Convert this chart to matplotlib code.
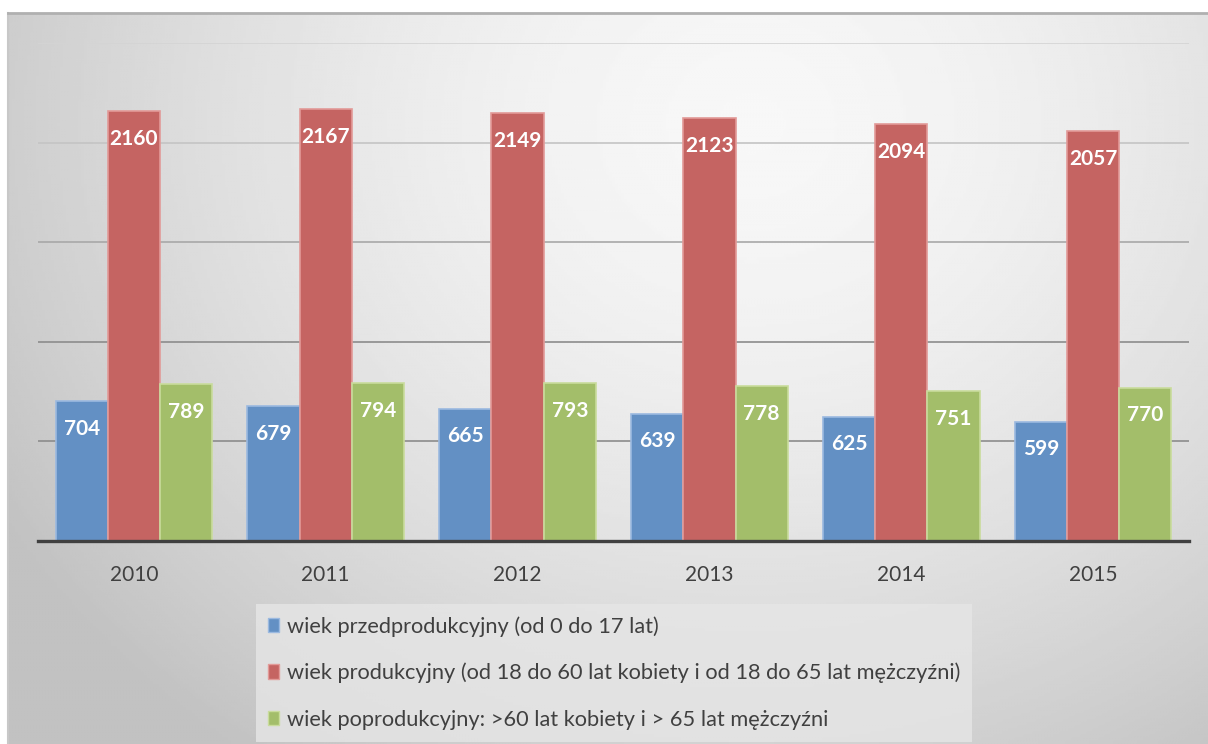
import numpy as np
import matplotlib.pyplot as plt
from matplotlib.patches import Patch

# data
years = ['2010', '2011', '2012', '2013', '2014', '2015']
pre_prod = [704, 679, 665, 639, 625, 599]
prod = [2160, 2167, 2149, 2123, 2094, 2057]
post_prod = [789, 794, 793, 778, 751, 770]
series_names = [
    'wiek przedprodukcyjny (od 0 do 17 lat)',
    'wiek produkcyjny (od 18 do 60 lat kobiety i od 18 do 65 lat mężczyźni)',
    'wiek poprodukcyjny: >60 lat kobiety i > 65 lat mężczyźni',
]
colors = ['#6390c4', '#c56462', '#a3be6a']
edges = ['#9bb9e0', '#e29a98', '#c9dc9c']

plt.rcParams['font.family'] = ['Lato', 'DejaVu Sans']

W, H = 1208, 744
fig = plt.figure(figsize=(W / 100, H / 100), dpi=100)
fig.patch.set_facecolor('white')

# gradient background of the chart area
bg = fig.add_axes([8 / W, 0, 1 - 8 / W, 1 - 13 / H])
gx, gy = np.meshgrid(np.linspace(0, 1, 400), np.linspace(0, 1, 250))
d = np.sqrt(((gx - 0.62) / 0.75) ** 2 + ((gy - 0.15) / 1.1) ** 2)
shade = np.clip(0.97 - 0.22 * d ** 1.6, 0.76, 0.97)
bg.imshow(shade, cmap='gray', vmin=0, vmax=1, aspect='auto',
          extent=[0, 1, 0, 1], origin='upper')
bg.set_xlim(0, 1)
bg.set_ylim(0, 1)
bg.set_xticks([])
bg.set_yticks([])
for side in ['right', 'bottom']:
    bg.spines[side].set_visible(False)
bg.spines['top'].set_color('#b0b0b0')
bg.spines['top'].set_linewidth(2)
bg.spines['left'].set_color('#c8c8c8')
bg.spines['left'].set_linewidth(1.5)

ax = fig.add_axes([38 / W, (H - 541) / H, 1151 / W, (541 - 43) / H])
ax.patch.set_alpha(0)
ax.set_xlim(-0.5, len(years) - 0.5)
ax.set_ylim(0, 2500)

grid_cols = ['#8c8c8c', '#8c8c8c', '#a8a8a8', '#c4c4c4', '#d4d4d4']
for lvl, gc in zip([500, 1000, 1500, 2000, 2500], grid_cols):
    ax.axhline(lvl, color=gc, lw=1.2, zorder=0)

x = np.arange(len(years))
bw = 0.272
for i, (vals, c, ec) in enumerate(zip([pre_prod, prod, post_prod], colors, edges)):
    pos = x + (i - 1) * bw
    ax.bar(pos, vals, width=bw, color=c, edgecolor=ec, lw=1.2, zorder=2)
    for px, v in zip(pos, vals):
        ax.annotate(str(v), (px, v), xytext=(0, -20), textcoords='offset points',
                    ha='center', va='center', color='white',
                    fontsize=15, fontweight='bold', zorder=3)

for s in ['top', 'right', 'left']:
    ax.spines[s].set_visible(False)
ax.spines['bottom'].set_color('#404040')
ax.spines['bottom'].set_linewidth(2.4)
ax.set_yticks([])
ax.set_xticks(x)
ax.set_xticklabels(years, fontsize=15, color='#404040')
ax.tick_params(axis='x', length=0, pad=17)

handles = [Patch(facecolor=c, edgecolor=ec) for c, ec in zip(colors, edges)]
leg = fig.legend(handles, series_names, loc='upper left',
                 bbox_to_anchor=(256 / W, 1 - 604 / H), fontsize=15.7,
                 frameon=True, fancybox=False, labelspacing=1.2,
                 handlelength=0.5, handleheight=0.65, handletextpad=0.35,
                 borderpad=0.55, borderaxespad=0)
leg.get_frame().set_facecolor('#e6e6e6')
leg.get_frame().set_edgecolor('none')
for t in leg.get_texts():
    t.set_color('#404040')

fig.savefig('out.png', dpi=100)
